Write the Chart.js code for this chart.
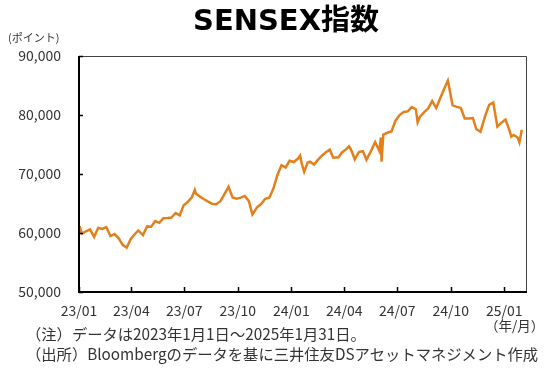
<!DOCTYPE html>
<html>
<head>
<meta charset="utf-8">
<script src="https://cdn.jsdelivr.net/npm/chart.js@4.4.1/dist/chart.umd.min.js"></script>
<style>
    html, body { margin: 0; padding: 0; background: #fff; }
    #wrap { width: 550px; height: 373px; position: relative; }
</style>
</head>
<body>
<div id="wrap"><canvas id="sensexChart" width="550" height="373"></canvas></div>
<script>
// weekly closes (approx)
const dates = [
    '2023-01-02', '2023-01-06', '2023-01-13', '2023-01-20', '2023-01-27', '2023-02-03', '2023-02-10', '2023-02-17',
    '2023-02-24', '2023-03-03', '2023-03-10', '2023-03-17', '2023-03-24', '2023-03-31', '2023-04-07', '2023-04-13',
    '2023-04-21', '2023-04-28', '2023-05-05', '2023-05-12', '2023-05-19', '2023-05-26', '2023-06-02', '2023-06-09',
    '2023-06-16', '2023-06-23', '2023-06-30', '2023-07-07', '2023-07-14', '2023-07-19', '2023-07-21', '2023-07-28',
    '2023-08-04', '2023-08-11', '2023-08-18', '2023-08-25', '2023-09-01', '2023-09-08', '2023-09-15', '2023-09-22',
    '2023-09-29', '2023-10-06', '2023-10-13', '2023-10-20', '2023-10-26', '2023-11-03', '2023-11-10', '2023-11-17',
    '2023-11-24', '2023-12-01', '2023-12-08', '2023-12-15', '2023-12-22', '2023-12-29',
    '2024-01-05', '2024-01-12', '2024-01-16', '2024-01-19', '2024-01-23', '2024-01-29', '2024-02-02', '2024-02-09',
    '2024-02-16', '2024-02-23', '2024-03-01', '2024-03-07', '2024-03-13', '2024-03-22', '2024-03-28', '2024-04-05',
    '2024-04-09', '2024-04-12', '2024-04-19', '2024-04-26', '2024-05-03', '2024-05-09', '2024-05-17', '2024-05-24',
    '2024-05-31', '2024-06-03', '2024-06-04', '2024-06-07', '2024-06-14', '2024-06-21', '2024-06-28', '2024-07-05',
    '2024-07-12', '2024-07-19', '2024-07-26', '2024-08-02', '2024-08-05', '2024-08-09', '2024-08-16', '2024-08-23',
    '2024-08-30', '2024-09-06', '2024-09-13', '2024-09-20', '2024-09-26', '2024-10-04', '2024-10-11', '2024-10-18',
    '2024-10-25', '2024-10-31', '2024-11-08', '2024-11-14', '2024-11-21', '2024-11-29', '2024-12-06', '2024-12-13',
    '2024-12-20', '2024-12-27', '2025-01-03', '2025-01-10', '2025-01-13', '2025-01-17', '2025-01-24', '2025-01-27',
    '2025-01-31'
];
const sensex = [
    61168, 59900, 60261, 60621, 59330, 60841, 60683, 61002,
    59463, 59809, 59135, 57990, 57527, 58992, 59832, 60431,
    59655, 61112, 61054, 62027, 61730, 62501, 62547, 62626,
    63385, 62979, 64719, 65280, 66060, 67300, 66684, 66160,
    65721, 65323, 64949, 64887, 65387, 66599, 67839, 66009,
    65828, 65996, 66283, 65398, 63148, 64364, 64905, 65795,
    65970, 67481, 69826, 71484, 71107, 72240,
    72026, 72568, 73128, 71683, 70370, 71941, 72085, 71595,
    72426, 73142, 73745, 74119, 72762, 72832, 73651, 74248,
    74683, 74245, 72488, 73730, 73878, 72404, 73917, 75410,
    73961, 76200, 72100, 76693, 76993, 77210, 79032, 79996,
    80519, 80604, 81333, 80982, 78759, 79706, 80437, 81086,
    82365, 81183, 82891, 84544, 85836, 81688, 81381, 81225,
    79402, 79389, 79486, 77580, 77156, 79803, 81709, 82133,
    78042, 78699, 79223, 77379, 76330, 76619, 76190, 75366,
    77500
];

const tickDates = ['2023-01-01', '2023-04-01', '2023-07-01', '2023-10-01', '2024-01-01', '2024-04-01', '2024-07-01', '2024-10-01', '2025-01-01'];
const tickLabels = ['23/01', '23/04', '23/07', '23/10', '24/01', '24/04', '24/07', '24/10', '25/01'];
const axisEndDate = '2025-02-09';

const start = Date.UTC(2023, 0, 1);
function dayIndex(s) {
    const p = s.split('-').map(Number);
    return Math.round((Date.UTC(p[0], p[1] - 1, p[2]) - start) / 86400000);
}

const points = dates.map((d, i) => ({ x: dayIndex(d), y: sensex[i] }));
const tickPos = tickDates.map(dayIndex);

const jp = '"Noto Sans CJK JP", "Noto Sans", sans-serif';

// frame, inward tick marks and the free texts
const decorPlugin = {
    id: 'decor',
    afterDraw(chart) {
        const ctx = chart.ctx;
        const a = chart.chartArea;
        const xs = chart.scales.x;
        const ys = chart.scales.y;
        ctx.save();
        ctx.strokeStyle = '#444';
        ctx.lineWidth = 1;
        ctx.beginPath();
        ctx.moveTo(a.left, a.top + 0.5);
        ctx.lineTo(a.right - 0.5, a.top + 0.5);
        ctx.lineTo(a.right - 0.5, a.bottom);
        ctx.stroke();

        ctx.strokeStyle = '#000';
        ctx.lineWidth = 2;
        ctx.beginPath();
        ctx.moveTo(a.left, a.top);
        ctx.lineTo(a.left, a.bottom);
        ctx.lineTo(a.right, a.bottom);
        ctx.stroke();

        ctx.lineWidth = 1.5;
        ctx.beginPath();
        ys.ticks.forEach(t => {
            const y = Math.round(ys.getPixelForValue(t.value)) + 0.5;
            ctx.moveTo(a.left, y);
            ctx.lineTo(a.left + 4, y);
        });
        xs.ticks.forEach(t => {
            const x = Math.round(xs.getPixelForValue(t.value)) + 0.5;
            ctx.moveTo(x, a.bottom);
            ctx.lineTo(x, a.bottom - 5);
        });
        ctx.stroke();

        ctx.fillStyle = '#000';
        ctx.textBaseline = 'middle';
        ctx.textAlign = 'center';
        ctx.font = 'bold 29px "DejaVu Sans", "Noto Sans CJK JP", sans-serif';
        ctx.fillText('SENSEX指数', 286, 22);

        ctx.fillStyle = '#333';
        ctx.textAlign = 'left';
        ctx.font = '11px ' + jp;
        ctx.fillText('(ポイント)', 8, 38);
        ctx.font = '13.5px ' + jp;
        ctx.fillText('（年/月）', 485, 326);
        ctx.font = '15.3px ' + jp;
        ctx.fillText('（注）データは2023年1月1日～2025年1月31日。', 26, 334);
        ctx.fillText('（出所）Bloombergのデータを基に三井住友DSアセットマネジメント作成', 26, 354);
        ctx.restore();
    }
};

new Chart(document.getElementById('sensexChart').getContext('2d'), {
    type: 'line',
    data: {
        datasets: [{
            data: points,
            borderColor: '#e3801c',
            borderWidth: 2.5,
            pointRadius: 0,
            tension: 0,
            fill: false
        }]
    },
    options: {
        responsive: false,
        animation: false,
        devicePixelRatio: 1,
        layout: { padding: { top: 56, right: 23, left: 0, bottom: 0 } },
        plugins: {
            legend: { display: false },
            tooltip: { enabled: false }
        },
        scales: {
            x: {
                type: 'linear',
                min: 0,
                max: dayIndex(axisEndDate),
                grid: { display: false, drawTicks: false },
                border: { display: false },
                afterBuildTicks: scale => {
                    scale.ticks = tickPos.map(v => ({ value: v }));
                },
                afterFit: scale => { scale.height = 81; },
                ticks: {
                    autoSkip: false,
                    maxRotation: 0,
                    padding: 10,
                    color: '#333',
                    font: { family: jp, size: 14 },
                    callback: (v) => tickLabels[tickPos.indexOf(v)]
                }
            },
            y: {
                min: 50000,
                max: 90000,
                grid: { display: false, drawTicks: false },
                border: { display: false },
                afterFit: scale => { scale.width = 79; },
                ticks: {
                    stepSize: 10000,
                    padding: 18,
                    color: '#333',
                    font: { family: jp, size: 14 },
                    callback: v => v.toLocaleString('en-US')
                }
            }
        }
    },
    plugins: [decorPlugin]
});
</script>
</body>
</html>
